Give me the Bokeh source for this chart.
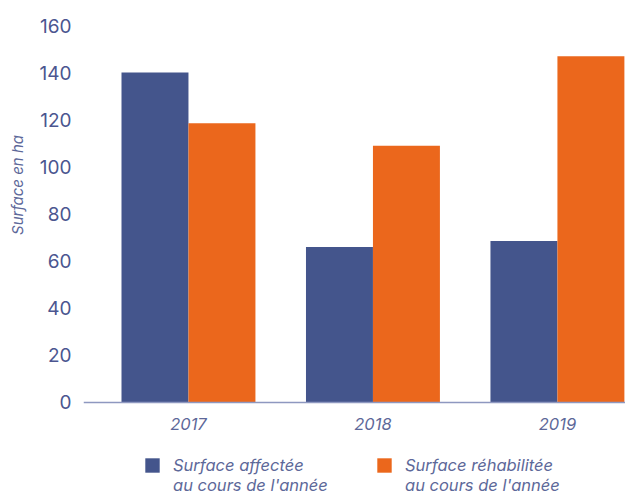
from bokeh.plotting import figure
from bokeh.models import ColumnDataSource, Legend, LegendItem, FixedTicker
from bokeh.transform import dodge
from bokeh.embed import file_html
from bokeh.resources import INLINE

years = ["2017", "2018", "2019"]
affectee = [140, 66, 68.5]
rehabilitee = [118.5, 109, 147]
y_ticks = [0, 20, 40, 60, 80, 100, 120, 140, 160]
label_affectee = ["Surface affectée", "au cours de l'année"]
label_rehab = ["Surface réhabilitée", "au cours de l'année"]
y_title = "Surface en ha"

BLUE = "#44558c"
ORANGE = "#eb671c"
TEXT = "#4b5690"
TEXT2 = "#5d6899"
FONT = "Inter"

src = ColumnDataSource(dict(x=list(range(len(years))), a=affectee, r=rehabilitee))

p = figure(frame_width=542, frame_height=469, output_backend="svg", toolbar_location=None,
           x_range=(-0.569, 2.369), y_range=(-39.05, 160),
           min_border_left=83, min_border_right=0, min_border_top=25, min_border_bottom=0)
p.outline_line_color = None
p.grid.grid_line_color = None

w = 0.363
ra = p.vbar(x=dodge("x", -w / 2), top="a", width=w, source=src, color=BLUE, line_color=None)
rr = p.vbar(x=dodge("x", w / 2), top="r", width=w, source=src, color=ORANGE, line_color=None)
# invisible renderer used only for the second line of each legend entry
rblank = p.vbar(x=dodge("x", 0), top="a", width=0, source=src, fill_alpha=0, line_alpha=0)

xa = p.xaxis[0]
xa.fixed_location = 0
xa.ticker = FixedTicker(ticks=list(range(len(years))))
xa.major_label_overrides = {i: y for i, y in enumerate(years)}
xa.axis_line_color = "#8e98c0"
xa.axis_line_width = 1.5
xa.major_tick_line_color = None
xa.minor_tick_line_color = None
xa.major_label_text_font = FONT
xa.major_label_text_font_style = "italic"
xa.major_label_text_font_size = "16.5px"
xa.major_label_text_color = TEXT2
xa.major_label_standoff = 10

ya = p.yaxis[0]
ya.ticker = FixedTicker(ticks=y_ticks)
ya.axis_line_color = None
ya.major_tick_line_color = None
ya.minor_tick_line_color = None
ya.major_label_text_font = FONT
ya.major_label_text_font_size = "19px"
ya.major_label_text_color = TEXT
ya.major_label_standoff = 6
ya.axis_label = "\u2003" * 10 + y_title
ya.axis_label_text_font = FONT
ya.axis_label_text_font_style = "italic"
ya.axis_label_text_font_size = "15px"
ya.axis_label_text_color = TEXT2
ya.axis_label_standoff = 10

legend = Legend(items=[LegendItem(label=label_affectee[0], renderers=[ra]),
                       LegendItem(label=label_rehab[0], renderers=[rr]),
                       LegendItem(label=label_affectee[1], renderers=[rblank]),
                       LegendItem(label=label_rehab[1], renderers=[rblank])],
                orientation="horizontal", ncols=2, location=(60, -1),
                label_text_font=FONT, label_text_font_style="italic",
                label_text_font_size="16.5px", label_text_color=TEXT2,
                label_height=17, label_width=202, glyph_width=18, glyph_height=18,
                label_standoff=12, spacing=0,
                border_line_color=None, background_fill_alpha=0,
                padding=0, margin=0)
p.add_layout(legend, "center")

open("out.html", "w").write(file_html(p, INLINE))
